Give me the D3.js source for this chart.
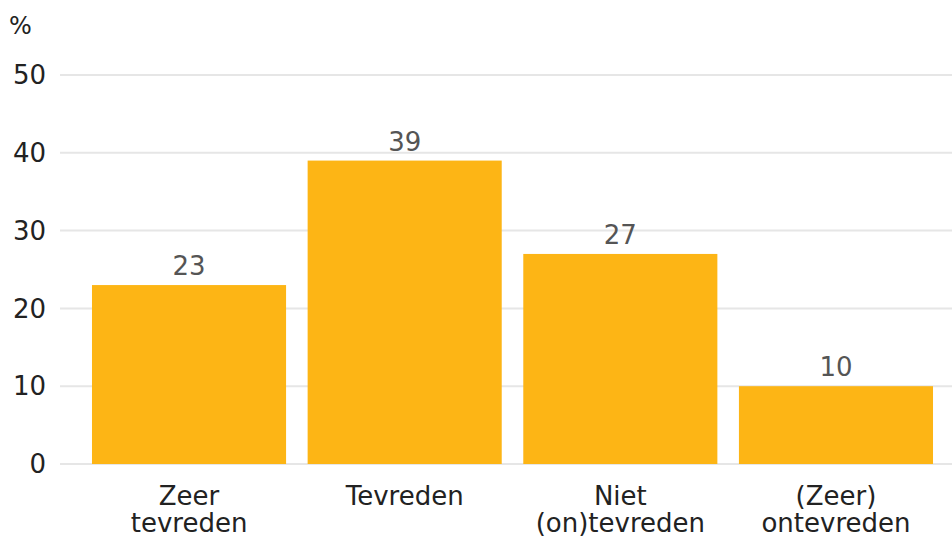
<!DOCTYPE html>
<html>
<head>
<meta charset="utf-8">
<script src="https://cdn.jsdelivr.net/npm/d3@7"></script>
<style>
  body { margin: 0; background: #fff; }
  text { font-family: "DejaVu Sans", sans-serif; }
</style>
</head>
<body>
<div id="chart"></div>
<script>
const categories = [["Zeer", "tevreden"], ["Tevreden"], ["Niet", "(on)tevreden"], ["(Zeer)", "ontevreden"]];
const values = [23, 39, 27, 10];
const yTicks = [0, 10, 20, 30, 40, 50];

const W = 952, H = 536;
const svg = d3.select('#chart').append('svg')
  .attr('width', W)
  .attr('height', H);

const x = d3.scaleBand()
  .domain(d3.range(values.length))
  .range([81.2, 943.8])
  .paddingInner(0.1)
  .paddingOuter(0.05);

const y = d3.scaleLinear()
  .domain([0, 50])
  .range([464, 75]);

// gridlines
svg.append('g').selectAll('line')
  .data(yTicks)
  .join('line')
    .attr('x1', 60)
    .attr('x2', W)
    .attr('y1', d => y(d))
    .attr('y2', d => y(d))
    .attr('stroke', '#e6e6e6')
    .attr('stroke-width', 2);

// tick labels
svg.append('g').selectAll('text')
  .data(yTicks)
  .join('text')
    .attr('x', 46)
    .attr('y', d => y(d))
    .attr('dy', '0.35em')
    .attr('text-anchor', 'end')
    .attr('font-size', 26)
    .attr('fill', '#222')
    .text(d => d);

svg.append('text')
  .attr('x', 9)
  .attr('y', 34)
  .attr('font-size', 24)
  .attr('fill', '#222')
  .text('%');

// bars
svg.append('g').selectAll('rect')
  .data(values)
  .join('rect')
    .attr('x', (d, i) => x(i))
    .attr('y', d => y(d))
    .attr('width', x.bandwidth())
    .attr('height', d => y(0) - y(d))
    .attr('fill', '#fdb515');

// value labels
svg.append('g').selectAll('text')
  .data(values)
  .join('text')
    .attr('x', (d, i) => x(i) + x.bandwidth() / 2)
    .attr('y', d => y(d) - 10)
    .attr('text-anchor', 'middle')
    .attr('font-size', 26)
    .attr('fill', '#555')
    .text(d => d);

// category labels
const cat = svg.append('g').selectAll('text')
  .data(categories)
  .join('text')
    .attr('x', (d, i) => x(i) + x.bandwidth() / 2)
    .attr('y', 505)
    .attr('text-anchor', 'middle')
    .attr('font-size', 26)
    .attr('fill', '#222');

cat.selectAll('tspan')
  .data(d => d)
  .join('tspan')
    .attr('x', function() { return d3.select(this.parentNode).attr('x'); })
    .attr('dy', (d, i) => i === 0 ? 0 : 27)
    .text(d => d);
</script>
</body>
</html>
